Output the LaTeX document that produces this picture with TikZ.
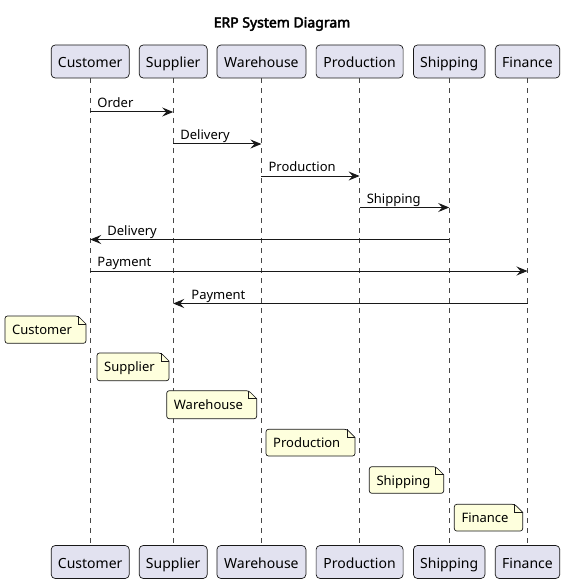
\documentclass[tikz,border=0pt]{standalone}
\usepackage{fontspec}
\setmainfont{Noto Sans}
\newfontfamily\titlefont{Noto Sans}[FakeBold=3]
\usetikzlibrary{arrows.meta}
\definecolor{partfill}{HTML}{E2E2F0}
\definecolor{notefill}{HTML}{FEFFDD}
\definecolor{ink}{HTML}{181818}
\tikzset{
  part/.style={draw=ink, fill=partfill, rounded corners=4bp, line width=0.7bp,
    minimum height=33bp, inner sep=0pt, text height=14bp, text depth=1.6bp,
    font=\fontsize{14bp}{16bp}\selectfont},
  life/.style={draw=ink!80, line width=0.6bp, dash pattern=on 5bp off 5bp},
  msg/.style={draw=ink, line width=1bp, -{Stealth[length=11bp,width=9bp,inset=4bp]}},
  lbl/.style={font=\fontsize{13bp}{15bp}\selectfont, inner sep=0pt, text=black},
  noteshape/.style={draw=ink, fill=notefill, line width=0.7bp},
}
\newcommand\notebox[6]{%
  \draw[noteshape, rounded corners=2.5bp] (#1,#2) -- (#3-8,#2) [sharp corners]-- (#3,#2+8) [rounded corners=2.5bp]-- (#3,#4) -- (#1,#4) -- cycle;
  \draw[draw=ink, line width=0.6bp] (#3-8,#2) -- (#3-8,#2+8) -- (#3,#2+8);
  \node[lbl, anchor=base west] (#5) at (#1+7,#2+18.5) {#6};
}
\begin{document}
\begin{tikzpicture}[x=1bp,y=-1bp]
\useasboundingbox[fill=white] (0,0) rectangle (565,584);
\node[font=\titlefont\fontsize{14bp}{16bp}\selectfont] (title) at (282,24) {ERP System Diagram};
% participants top
\node[part, minimum width=78bp] (custT) at (90.2,61.5) {Customer};
\node[part, minimum width=68bp] (suppT) at (173.2,61.5) {Supplier};
\node[part, minimum width=89bp] (wareT) at (261.4,61.5) {Warehouse};
\node[part, minimum width=87bp] (prodT) at (359.6,61.5) {Production};
\node[part, minimum width=71.5bp] (shipT) at (449.2,61.5) {Shipping};
\node[part, minimum width=64.5bp] (finT) at (527.5,61.5) {Finance};
% participants bottom
\node[part, minimum width=78bp] (custB) at (90.2,562) {Customer};
\node[part, minimum width=68bp] (suppB) at (173.2,562) {Supplier};
\node[part, minimum width=89bp] (wareB) at (261.4,562) {Warehouse};
\node[part, minimum width=87bp] (prodB) at (359.6,562) {Production};
\node[part, minimum width=71.5bp] (shipB) at (449.2,562) {Shipping};
\node[part, minimum width=64.5bp] (finB) at (527.5,562) {Finance};
% lifelines
\foreach \p in {cust,supp,ware,prod,ship,fin}{
  \draw[life] (\p T.south) -- (\p B.north);
}
% messages
\draw[msg] (custT |- 0,112) -- (suppT |- 0,112);
\node[lbl, anchor=base west] (l1) at ([xshift=7bp]custT |- 0,107.5) {Order};
\draw[msg] (suppT |- 0,144) -- (wareT |- 0,144);
\node[lbl, anchor=base west] (l2) at ([xshift=7bp]suppT |- 0,139.5) {Delivery};
\draw[msg] (wareT |- 0,176) -- (prodT |- 0,176);
\node[lbl, anchor=base west] (l3) at ([xshift=7bp]wareT |- 0,171.5) {Production};
\draw[msg] (prodT |- 0,207.5) -- (shipT |- 0,207.5);
\node[lbl, anchor=base west] (l4) at ([xshift=7bp]prodT |- 0,203) {Shipping};
\draw[msg] (shipT |- 0,239.5) -- (custT |- 0,239.5);
\node[lbl, anchor=base west] (l5) at ([xshift=17bp]custT |- 0,235) {Delivery};
\draw[msg] (custT |- 0,271) -- (finT |- 0,271);
\node[lbl, anchor=base west] (l6) at ([xshift=7bp]custT |- 0,266.5) {Payment};
\draw[msg] (finT |- 0,303.5) -- (suppT |- 0,303.5);
\node[lbl, anchor=base west] (l7) at ([xshift=18bp]suppT |- 0,299) {Payment};
% notes
\notebox{5}{316}{86}{343.3}{n1}{Customer}
\notebox{97}{353}{169}{380.7}{n2}{Supplier}
\notebox{166.7}{390.7}{256.7}{418.7}{n3}{Warehouse}
\notebox{266}{429.3}{355}{456}{n4}{Production}
\notebox{369.3}{466.7}{443.7}{493.3}{n5}{Shipping}
\notebox{454.3}{504.3}{522.7}{531}{n6}{Finance}
\end{tikzpicture}
\end{document}
